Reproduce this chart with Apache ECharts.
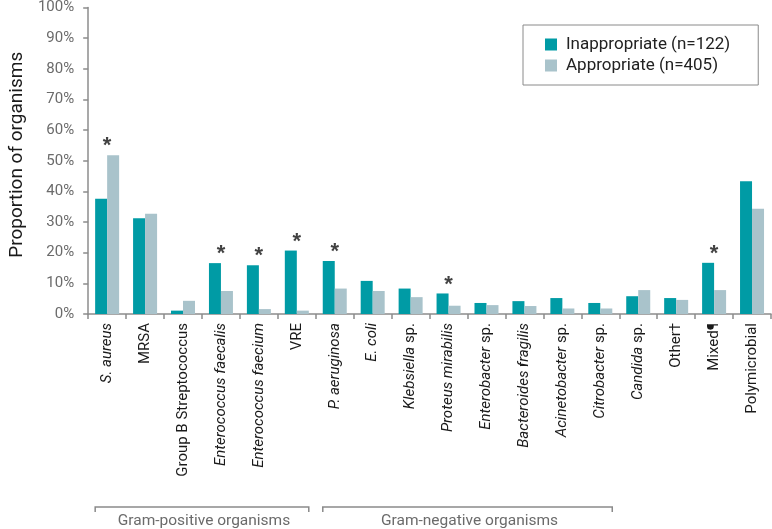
<!DOCTYPE html>
<html><head><meta charset="utf-8">
<script src="https://cdn.jsdelivr.net/npm/echarts@6/dist/echarts.min.js"></script>
<style>html,body{margin:0;padding:0;background:#fff}#c{width:772px;height:529px}</style>
</head><body><div id="c"></div>
<script>
const categories = ['S. aureus','MRSA','Group B Streptococcus','Enterococcus faecalis','Enterococcus faecium','VRE','P. aeruginosa','E. coli','Klebsiella sp.','Proteus mirabilis','Enterobacter sp.','Bacteroides fragilis','Acinetobacter sp.','Citrobacter sp.','Candida sp.','Other†','Mixed¶','Polymicrobial'];
const italicParts = ['S. aureus','','','Enterococcus faecalis','Enterococcus faecium','','P. aeruginosa','E. coli','Klebsiella','Proteus mirabilis','Enterobacter','Bacteroides fragilis','Acinetobacter','Citrobacter','Candida','','',''];
const inappropriate = [37.6,31.2,1.1,16.6,15.9,20.7,17.3,10.8,8.3,6.7,3.6,4.2,5.2,3.6,5.8,5.2,16.7,43.3];
const appropriate = [51.8,32.7,4.3,7.5,1.6,1.1,8.3,7.5,5.5,2.7,2.9,2.6,1.8,1.8,7.8,4.6,7.8,34.3];
const significant = [true,false,false,true,true,true,true,false,false,true,false,false,false,false,false,false,true,false];
const seriesNames = ['Inappropriate (n=122)','Appropriate (n=405)'];
const groupNames = ['Gram-positive organisms','Gram-negative organisms'];
const groupStart = [0,6];
const groupEnd = [5,13];

const FONT = 'Roboto';
const chart = echarts.init(document.getElementById('c'), null, {renderer:'canvas'});

const starData = [];
categories.forEach((c,i)=>{ if(significant[i]) starData.push([c, Math.max(inappropriate[i], appropriate[i])]); });

const option = {
  animation:false,
  textStyle:{fontFamily:FONT},
  grid:{left:82, right:1, top:6, bottom:215, containLabel:false},
  legend:{
    orient:'vertical', left:523, top:25,
    padding:[11,28,11,22], itemGap:4,
    borderColor:'#8a8a8a', borderWidth:1,
    itemWidth:12, itemHeight:12, icon:'rect',
    textStyle:{fontFamily:FONT, fontSize:17, color:'#222', padding:[0,0,0,4]},
    data:seriesNames
  },
  xAxis:{
    type:'category', data:categories,
    axisLine:{lineStyle:{color:'#8c8c8c', width:1.5}},
    axisTick:{show:true, length:5, interval:0, lineStyle:{color:'#8c8c8c', width:1.5}},
    axisLabel:{
      interval:0, rotate:90, margin:9, color:'#1a1a1a', fontSize:15, fontFamily:FONT,
      formatter:(v, idx)=>{
        const it = italicParts[idx];
        if(it){
          const rest = v.slice(it.length);
          return '{i|'+it+'}' + (rest ? '{n|'+rest+'}' : '');
        }
        return '{n|'+v+'}';
      },
      rich:{
        i:{fontStyle:'italic', fontSize:15, color:'#1a1a1a', fontFamily:FONT},
        n:{fontSize:15, color:'#1a1a1a', fontFamily:FONT}
      }
    }
  },
  yAxis:{
    type:'value', min:0, max:100, interval:10,
    name:'Proportion of organisms', nameLocation:'middle', nameGap:61,
    nameTextStyle:{fontSize:19, color:'#1a1a1a', fontFamily:FONT, padding:[0,0,0,12]},
    axisLine:{show:true, lineStyle:{color:'#8c8c8c', width:1.5}},
    axisTick:{show:true, length:5, lineStyle:{color:'#8c8c8c', width:1.5}},
    splitLine:{show:false},
    axisLabel:{formatter:'{value}%', color:'#6b6b6b', fontSize:15, margin:14, fontFamily:FONT}
  },
  series:[
    {name:seriesNames[0], type:'bar', data:inappropriate, barWidth:12, barGap:'0%',
     itemStyle:{color:'#009ba5'}},
    {name:seriesNames[1], type:'bar', data:appropriate, barWidth:12, barGap:'0%',
     itemStyle:{color:'#a9c3cb'}},
    {name:'sig', type:'scatter', data:starData, symbolSize:0, silent:true,
     label:{show:true, formatter:'*', position:'inside', offset:[0,-9],
            fontSize:22, fontWeight:'bold', color:'#111', fontFamily:'Liberation Sans'}}
  ]
};
chart.setOption(option);

const bw = (chart.convertToPixel({xAxisIndex:0}, categories[1]) - chart.convertToPixel({xAxisIndex:0}, categories[0]));
const graphics = [];
groupNames.forEach((g,k)=>{
  const l = chart.convertToPixel({xAxisIndex:0}, categories[groupStart[k]]) - bw/2 + 7;
  const r = chart.convertToPixel({xAxisIndex:0}, categories[groupEnd[k]]) + bw/2 - 7;
  graphics.push({type:'polyline', shape:{points:[[l,512],[l,507],[r,507],[r,512]]},
    style:{stroke:'#8a8a8a', lineWidth:1.5, fill:null}});
  graphics.push({type:'text', x:(l+r)/2 + 2, y:521, style:{text:g, fill:'#6b6b6b', font:'15.5px Roboto', textAlign:'center', textVerticalAlign:'middle'}});
});
chart.setOption({graphic:graphics});
</script>
</body></html>
